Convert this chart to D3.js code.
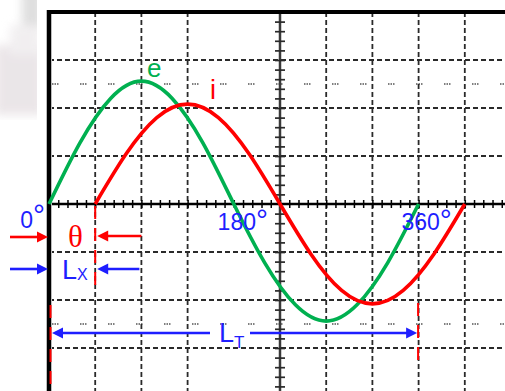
<!DOCTYPE html>
<html>
<head>
<meta charset="utf-8">
<script src="https://cdn.jsdelivr.net/npm/d3@7"></script>
<style>
html,body{margin:0;padding:0;background:#fff;}
svg{display:block;}
</style>
</head>
<body>
<svg id="chart" width="505" height="391"></svg>
<script>
// ---- data (units: degrees / grid divisions) ----
const eAngles = [0, 30, 60, 90, 120, 150, 180, 210, 240, 270, 300, 330, 360];
const eValues = [0, 1.27, 2.2, 2.56, 2.2, 1.27, 0, -1.22, -2.1, -2.44, -2.1, -1.22, 0];
const iAngles = [45, 75, 105, 135, 165, 195, 225, 255, 285, 315, 345, 375, 405];
const iValues = [0, 1.04, 1.8, 2.08, 1.8, 1.04, 0, -1.04, -1.8, -2.08, -1.8, -1.04, 0];
const tickAngles = [0, 180, 360];
const tickLabels = ["0", "180", "360"];
const gridAngles = [45, 90, 135, 225, 270, 315, 360, 405, 450];
const gridLevels = [3, 2, 1, -1, -2, -3];
const dottedLevels = [2.5, -2.5];
const thetaAngle = 45;

const svg = d3.select("#chart");
const W = 505, H = 391;

const x = d3.scaleLinear().domain([0, 360]).range([49, 418.6]);
const y = d3.scaleLinear().domain([-4, 4]).range([396, 12]);

const BLUE = "#1e1eff", RED = "#ff0000", GREEN = "#00b050";

// faint blurred background blob at left
const defs = svg.append("defs");
defs.append("filter").attr("id", "blur").append("feGaussianBlur").attr("stdDeviation", 5);
defs.append("clipPath").attr("id", "leftclip").append("rect").attr("x", 0).attr("y", 0).attr("width", 37).attr("height", 120);
const blob = svg.append("g").attr("clip-path", "url(#leftclip)").append("g").attr("filter", "url(#blur)").attr("opacity", 0.8);
blob.append("rect").attr("x", 22).attr("y", -10).attr("width", 20).attr("height", 40).attr("fill", "#d6d6d6");
blob.append("rect").attr("x", -5).attr("y", 45).attr("width", 48).attr("height", 70).attr("fill", "#e6e0e3");
blob.append("rect").attr("x", 10).attr("y", 25).attr("width", 30).attr("height", 30).attr("fill", "#eeebed");

// dotted half-division lines
dottedLevels.forEach(v => {
  svg.append("line").attr("x1", x(0) + 3).attr("x2", W).attr("y1", y(v)).attr("y2", y(v))
    .attr("stroke", "#555").attr("stroke-width", 1.6)
    .attr("stroke-dasharray", "1.5,1,1.5,1,1.5,21.5");
});

// grid lines
const grid = svg.append("g").attr("stroke", "#2a2a2a").attr("stroke-width", 1.8).attr("stroke-dasharray", "5,3");
gridAngles.forEach(a => {
  grid.append("line").attr("x1", x(a)).attr("x2", x(a)).attr("y1", y(4)).attr("y2", H);
});
gridLevels.forEach(v => {
  grid.append("line").attr("x1", x(0)).attr("x2", W).attr("y1", y(v)).attr("y2", y(v));
});

// center vertical axis with ticks
const vAxisX = x(225);
svg.append("line").attr("x1", vAxisX).attr("x2", vAxisX).attr("y1", y(4)).attr("y2", H)
  .attr("stroke", "#3a3a3a").attr("stroke-width", 2.5);
const yTicks = d3.range(-4, 4.001, 0.2).filter(v => Math.abs(v) > 0.01);
const yAxis = d3.axisRight(y).tickValues(yTicks).tickSize(10).tickFormat("");
const gy = svg.append("g").attr("transform", `translate(${vAxisX - 5},0)`).call(yAxis);
gy.select(".domain").remove();
gy.selectAll(".tick line").attr("stroke", "#2a2a2a").attr("stroke-width", 1.7);

// horizontal axis with ticks
svg.append("line").attr("x1", x(0)).attr("x2", W).attr("y1", y(0)).attr("y2", y(0))
  .attr("stroke", "#000").attr("stroke-width", 2.5);
const xTicks = d3.range(9, 460, 9);
const xAxis = d3.axisBottom(x).tickValues(xTicks).tickSize(8).tickFormat("");
const gx = svg.append("g").attr("transform", `translate(0,${y(0) - 4})`).call(xAxis);
gx.select(".domain").remove();
gx.selectAll(".tick line").attr("stroke", "#000").attr("stroke-width", 1.5);

// frame (left and top)
svg.append("line").attr("x1", x(0)).attr("x2", x(0)).attr("y1", 10).attr("y2", H)
  .attr("stroke", "#bbb").attr("stroke-width", 6);
svg.append("line").attr("x1", x(0)).attr("x2", x(0)).attr("y1", 10).attr("y2", H)
  .attr("stroke", "#000").attr("stroke-width", 4);
svg.append("line").attr("x1", x(0) - 2).attr("x2", W).attr("y1", y(4)).attr("y2", y(4))
  .attr("stroke", "#000").attr("stroke-width", 4);

// red dashed markers
const redDash = (xx, y1, y2) => svg.append("line").attr("x1", xx).attr("x2", xx).attr("y1", y1).attr("y2", y2)
  .attr("stroke", RED).attr("stroke-width", 2).attr("stroke-dasharray", "13,9");
redDash(x(thetaAngle), y(0) + 2, 292);
redDash(x(0) + 1.5, 305, H);
redDash(x(360) - 0.5, 303, 362);

// curves
const line = d3.line().curve(d3.curveNatural);
svg.append("path")
  .attr("d", line(eAngles.map((a, k) => [x(a), y(eValues[k])])))
  .attr("fill", "none").attr("stroke", GREEN).attr("stroke-width", 3.6);
svg.append("path")
  .attr("d", line(iAngles.map((a, k) => [x(a), y(iValues[k])])))
  .attr("fill", "none").attr("stroke", RED).attr("stroke-width", 3.6);

// curve labels
const sans = "'Liberation Sans', Arial, sans-serif";
svg.append("text").attr("x", 147).attr("y", 77).attr("font-family", sans).attr("font-size", 26)
  .attr("fill", GREEN).text("e");
svg.append("text").attr("x", 210).attr("y", 99).attr("font-family", sans).attr("font-size", 27)
  .attr("fill", RED).text("i");

// degree tick labels
tickAngles.forEach((a, k) => {
  const t = svg.append("text").attr("font-family", sans).attr("font-size", 23).attr("fill", BLUE)
    .attr("y", a === 0 ? 228 : 230);
  if (a === 0) {
    t.attr("x", x(a) - 4).attr("text-anchor", "end");
  } else {
    t.attr("x", x(a) + (a === 180 ? 9 : 8)).attr("text-anchor", "middle");
  }
  t.append("tspan").text(tickLabels[k]);
  t.append("tspan").attr("font-size", 30).attr("dy", a === 0 ? -3 : 0).text("°");
});

// arrows
function arrow(x1, x2, yy, color) {
  const dir = Math.sign(x2 - x1);
  const hl = 11, hw = 5.5;
  svg.append("line").attr("x1", x1).attr("x2", x2 - dir * (hl - 1)).attr("y1", yy).attr("y2", yy)
    .attr("stroke", color).attr("stroke-width", 2.6);
  svg.append("path").attr("d", `M${x2},${yy} L${x2 - dir * hl},${yy - hw} L${x2 - dir * hl},${yy + hw} Z`)
    .attr("fill", color);
}
arrow(10, x(0) - 1, 237, RED);
arrow(x(90), x(thetaAngle) + 2, 236, RED);
arrow(10, x(0) - 1, 269, BLUE);
arrow(x(90) - 2, x(thetaAngle) + 2, 269, BLUE);
// LT arrow
svg.append("line").attr("x1", x(0) + 10).attr("x2", 210).attr("y1", 333).attr("y2", 333)
  .attr("stroke", BLUE).attr("stroke-width", 2.6);
svg.append("path").attr("d", `M${x(0) + 3},333 L${x(0) + 14},327.5 L${x(0) + 14},338.5 Z`).attr("fill", BLUE);
arrow(250, x(360) - 1.5, 333, BLUE);

// theta label
svg.append("text").attr("x", 75.5).attr("y", 247).attr("text-anchor", "middle")
  .attr("font-family", "'Liberation Serif', 'Times New Roman', serif").attr("font-size", 31)
  .attr("fill", RED).text("θ");

// Lx label
const lx = svg.append("text").attr("x", 62).attr("y", 279).attr("font-family", sans).attr("font-size", 27).attr("fill", BLUE);
lx.append("tspan").text("L");
lx.append("tspan").attr("font-size", 16).attr("dy", 1).text("X");

// LT label
const lt = svg.append("text").attr("x", 219).attr("y", 342).attr("font-family", sans).attr("font-size", 27).attr("fill", BLUE);
lt.append("tspan").text("L");
lt.append("tspan").attr("font-size", 17).attr("dy", 6).text("T");
</script>
</body>
</html>
